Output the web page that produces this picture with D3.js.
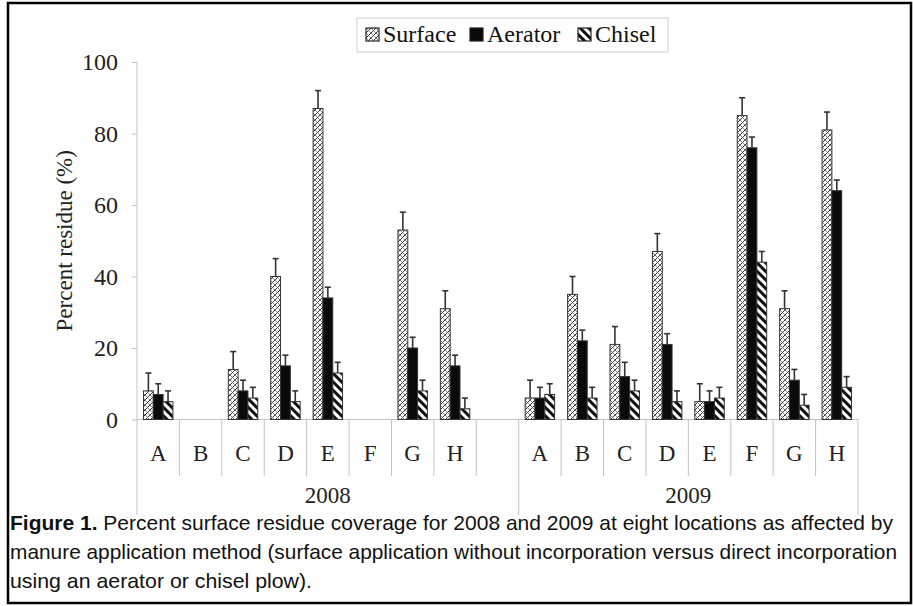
<!DOCTYPE html>
<html>
<head>
<meta charset="utf-8">
<script src="https://cdn.jsdelivr.net/npm/d3@7"></script>
<style>
  body { margin: 0; background: #fff; }
  svg { display: block; }
</style>
</head>
<body>
<div id="chart"></div>
<script>
// locations and years
const locations = ['A', 'B', 'C', 'D', 'E', 'F', 'G', 'H'];
const years     = ['2008', '2009'];
const series    = ['Surface', 'Aerator', 'Chisel'];

// percent residue, null = no data
const surface2008 = [8, null, 14, 40, 87, null, 53, 31];
const aerator2008 = [7, null, 8, 15, 34, null, 20, 15];
const chisel2008  = [5, null, 6, 5, 13, null, 8, 3];
const surface2009 = [6, 35, 21, 47, 5, 85, 31, 81];
const aerator2009 = [6, 22, 12, 21, 5, 76, 11, 64];
const chisel2009  = [7, 6, 8, 5, 6, 44, 4, 9];

// error bar (upper) lengths
const surfaceErr2008 = [5, null, 5, 5, 5, null, 5, 5];
const aeratorErr2008 = [3, null, 3, 3, 3, null, 3, 3];
const chiselErr2008  = [3, null, 3, 3, 3, null, 3, 3];
const surfaceErr2009 = [5, 5, 5, 5, 5, 5, 5, 5];
const aeratorErr2009 = [3, 3, 4, 3, 3, 3, 3, 3];
const chiselErr2009  = [3, 3, 3, 3, 3, 3, 3, 3];

const yTicks = [0, 20, 40, 60, 80, 100];

const captionLines = [
  'Percent surface residue coverage for 2008 and 2009 at eight locations as affected by',
  'manure application method (surface application without incorporation versus direct incorporation',
  'using an aerator or chisel plow).'
];

const width  = 913;
const height = 606;
const serif  = '"Liberation Serif", "Times New Roman", serif';
const sans   = '"Liberation Sans", Arial, sans-serif';
const axisGrey = '#c4c4c4';

// build slot list: 2008 A-H, blank, 2009 A-H
const slots = [];
locations.forEach(l => slots.push('2008-' + l));
slots.push('gap');
locations.forEach(l => slots.push('2009-' + l));

const table = {
  '2008': {Surface: [surface2008, surfaceErr2008], Aerator: [aerator2008, aeratorErr2008], Chisel: [chisel2008, chiselErr2008]},
  '2009': {Surface: [surface2009, surfaceErr2009], Aerator: [aerator2009, aeratorErr2009], Chisel: [chisel2009, chiselErr2009]}
};

let data = [];
years.forEach(yr => {
  series.forEach(s => {
    const [vals, errs] = table[yr][s];
    vals.forEach((v, i) => {
      if (v !== null) data.push({slot: yr + '-' + locations[i], series: s, value: v, err: errs[i]});
    });
  });
});

const svg = d3.select('#chart')
  .append('svg')
  .attr('width', width)
  .attr('height', height)
  .attr('viewBox', `0 0 ${width} ${height}`);

// patterns
const defs = svg.append('defs');
const pSurface = defs.append('pattern')
  .attr('id', 'pat-surface')
  .attr('patternUnits', 'userSpaceOnUse')
  .attr('width', 5).attr('height', 5);
pSurface.append('rect').attr('width', 5).attr('height', 5).attr('fill', '#fff');
pSurface.append('path').attr('d', 'M0,5 L5,0 M-1,1 L1,-1 M4,6 L6,4')
  .attr('stroke', '#333').attr('stroke-width', 1);
pSurface.append('path').attr('d', 'M0,0 L5,5')
  .attr('stroke', '#555').attr('stroke-width', 0.7);

const pChisel = defs.append('pattern')
  .attr('id', 'pat-chisel')
  .attr('patternUnits', 'userSpaceOnUse')
  .attr('width', 6).attr('height', 6)
  .attr('patternTransform', 'rotate(-45)');
pChisel.append('rect').attr('width', 6).attr('height', 6).attr('fill', '#fff');
pChisel.append('rect').attr('x', 0).attr('width', 3).attr('height', 6).attr('fill', '#111');

const fills = {Surface: 'url(#pat-surface)', Aerator: '#0a0a0a', Chisel: 'url(#pat-chisel)'};

// frame
svg.append('rect')
  .attr('x', 8).attr('y', 3)
  .attr('width', 903).attr('height', 600)
  .attr('fill', 'none')
  .attr('stroke', '#000')
  .attr('stroke-width', 2.5);

// scales
const x0 = d3.scaleBand().domain(slots).range([137, 858]).padding(0);
const x1 = d3.scaleBand().domain(series).range([0, x0.bandwidth()]).paddingInner(0).paddingOuter(0.66);
const y  = d3.scaleLinear().domain([0, 100]).range([419.5, 62]);

// y axis
const yAxis = svg.append('g')
  .attr('transform', 'translate(137,0)')
  .call(d3.axisLeft(y).tickValues(yTicks).tickSize(5).tickPadding(14));
yAxis.select('.domain').attr('stroke', axisGrey).attr('d', `M0,${y(0)}V${y(100)}`);
yAxis.selectAll('.tick line').attr('stroke', axisGrey);
yAxis.selectAll('.tick text')
  .style('font-family', serif)
  .style('font-size', '24px')
  .attr('fill', '#222');

svg.append('text')
  .attr('transform', `translate(72, ${(y(0) + y(100)) / 2}) rotate(-90)`)
  .attr('text-anchor', 'middle')
  .style('font-family', serif)
  .style('font-size', '23px')
  .attr('fill', '#222')
  .text('Percent residue (%)');

// x axis line and category separators
svg.append('line')
  .attr('x1', 137).attr('x2', 858)
  .attr('y1', y(0)).attr('y2', y(0))
  .attr('stroke', axisGrey);

const bounds = d3.range(slots.length + 1);
svg.append('g').selectAll('line')
  .data(bounds)
  .enter()
  .append('line')
  .attr('x1', i => i === slots.length ? 858 : x0(slots[i]))
  .attr('x2', i => i === slots.length ? 858 : x0(slots[i]))
  .attr('y1', y(0))
  .attr('y2', i => (i === 0 || i === 9 || i === slots.length) ? 515 : 476)
  .attr('stroke', axisGrey);

svg.append('g').selectAll('text')
  .data(slots.filter(s => s !== 'gap'))
  .enter()
  .append('text')
  .attr('x', s => x0(s) + x0.bandwidth() / 2)
  .attr('y', 461)
  .attr('text-anchor', 'middle')
  .style('font-family', serif)
  .style('font-size', '23px')
  .attr('fill', '#222')
  .text(s => s.split('-')[1]);

svg.append('g').selectAll('text')
  .data(years)
  .enter()
  .append('text')
  .attr('x', (yr, i) => i === 0 ? (x0('2008-A') + x0('gap') + x0.bandwidth()) / 2 : (x0('2009-A') + 858) / 2)
  .attr('y', 503)
  .attr('text-anchor', 'middle')
  .style('font-family', serif)
  .style('font-size', '23px')
  .attr('fill', '#222')
  .text(d => d);

// bars
const bars = svg.append('g');
bars.selectAll('rect')
  .data(data)
  .enter()
  .append('rect')
  .attr('x', d => x0(d.slot) + x1(d.series))
  .attr('y', d => y(d.value))
  .attr('width', x1.bandwidth())
  .attr('height', d => y(0) - y(d.value))
  .attr('fill', d => fills[d.series])
  .attr('stroke', '#333')
  .attr('stroke-width', 1);

// error bars
const errG = svg.append('g').attr('stroke', '#333').attr('stroke-width', 1.6);
errG.selectAll('line.v')
  .data(data)
  .enter()
  .append('line')
  .attr('class', 'v')
  .attr('x1', d => x0(d.slot) + x1(d.series) + x1.bandwidth() / 2)
  .attr('x2', d => x0(d.slot) + x1(d.series) + x1.bandwidth() / 2)
  .attr('y1', d => y(d.value))
  .attr('y2', d => y(d.value + d.err));
errG.selectAll('line.cap')
  .data(data)
  .enter()
  .append('line')
  .attr('class', 'cap')
  .attr('x1', d => x0(d.slot) + x1(d.series) + x1.bandwidth() / 2 - 3)
  .attr('x2', d => x0(d.slot) + x1(d.series) + x1.bandwidth() / 2 + 3)
  .attr('y1', d => y(d.value + d.err))
  .attr('y2', d => y(d.value + d.err));

// legend
const legend = svg.append('g');
legend.append('rect')
  .attr('x', 357).attr('y', 18)
  .attr('width', 311).attr('height', 34)
  .attr('fill', '#fff')
  .attr('stroke', '#cfcfcf');

const legendX = d3.scaleOrdinal().domain(series).range([366, 470, 578]);
const item = legend.selectAll('g.item')
  .data(series)
  .enter()
  .append('g')
  .attr('class', 'item')
  .attr('transform', d => `translate(${legendX(d)}, 28)`);
item.append('rect')
  .attr('width', 13).attr('height', 13)
  .attr('fill', d => fills[d])
  .attr('stroke', '#222')
  .attr('stroke-width', 1.2);
item.append('text')
  .attr('x', 17)
  .attr('y', 14)
  .style('font-family', serif)
  .style('font-size', '24px')
  .attr('fill', '#111')
  .text(d => d);

// caption
const capWidths = [883, 887, 302];
const capY = [530, 559, 588];
captionLines.forEach((line, i) => {
  const t = svg.append('text')
    .attr('x', 10)
    .attr('y', capY[i])
    .attr('textLength', capWidths[i])
    .attr('lengthAdjust', 'spacingAndGlyphs')
    .style('font-family', sans)
    .style('font-size', '21px')
    .attr('fill', '#111');
  if (i === 0) {
    t.append('tspan').style('font-weight', 'bold').text('Figure 1.');
    t.append('tspan').text(' ' + line);
  } else {
    t.text(line);
  }
});
</script>
</body>
</html>
